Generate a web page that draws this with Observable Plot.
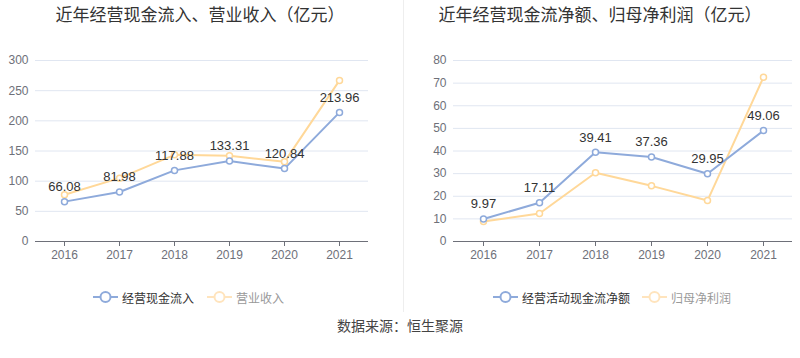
<!DOCTYPE html>
<html><head><meta charset="utf-8">
<script src="https://cdn.jsdelivr.net/npm/d3@7"></script>
<script src="https://cdn.jsdelivr.net/npm/@observablehq/plot@0.6"></script>
<style>
body{margin:0;background:#fff;font-family:"Liberation Sans","Noto Sans CJK SC",sans-serif;}
#wrap{position:relative;width:800px;height:358px;overflow:hidden;}
.panel{position:absolute;top:0;width:400px;}
.title{position:absolute;top:0;left:0;width:400px;text-align:center;font-family:"Noto Sans CJK SC",sans-serif;font-size:17px;line-height:28px;color:#333;}
.chart{position:absolute;top:40px;left:0;}
.legend{position:absolute;top:288px;left:0;width:400px;height:18px;font-family:"Noto Sans CJK SC",sans-serif;font-size:12px;}
.item{position:absolute;top:0;display:flex;align-items:center;height:18px;}
.item svg{margin-right:4px;}
#divider{position:absolute;left:403px;top:0;width:1px;height:312px;background:#eeeeee;}
#caption{position:absolute;top:314px;left:0;width:800px;text-align:center;font-family:"Noto Sans CJK SC",sans-serif;font-size:14px;color:#444;line-height:22px;}
</style></head>
<body><div id="wrap"></div>
<script>
const years = ["2016","2017","2018","2019","2020","2021"];
// Left chart
const cashInflow = [66.08, 81.98, 117.88, 133.31, 120.84, 213.96];
const revenue = [77.4, 105.0, 143.7, 142.0, 132.0, 267.0];
const leftTicks = [0, 50, 100, 150, 200, 250, 300];
// Right chart
const netCash = [9.97, 17.11, 39.41, 37.36, 29.95, 49.06];
const netProfit = [8.8, 12.4, 30.4, 24.6, 18.1, 72.6];
const rightTicks = [0, 10, 20, 30, 40, 50, 60, 70, 80];

const titles = ["近年经营现金流入、营业收入（亿元）", "近年经营现金流净额、归母净利润（亿元）"];
const legendNames = [["经营现金流入", "营业收入"], ["经营活动现金流净额", "归母净利润"]];
const caption = "数据来源：恒生聚源";

const BLUE = "#8eaadb", ORANGE = "#ffd899", AXIS = "#6e7079", GRID = "#e0e6f1";

function makeChart(a, b, ticks, ml, mr) {
  const A = years.map((y, i) => ({year: y, v: a[i]}));
  const B = years.map((y, i) => ({year: y, v: b[i]}));
  return Plot.plot({
    width: 400, height: 230,
    marginLeft: ml, marginRight: mr, marginTop: 20, marginBottom: 29,
    style: {fontFamily: "Liberation Sans, sans-serif", fontSize: "12px", color: AXIS, background: "transparent"},
    x: {type: "point", domain: years, padding: 0.5, label: null},
    y: {domain: [ticks[0], ticks[ticks.length - 1]], label: null},
    marks: [
      Plot.gridY(ticks, {stroke: GRID, strokeOpacity: 1}),
      Plot.axisY(ticks, {tickSize: 0, tickPadding: 7, fill: AXIS, fontSize: 12}),
      Plot.ruleY([0], {stroke: AXIS}),
      Plot.axisX({tickSize: 5, stroke: AXIS, tickPadding: 4, fill: AXIS, fontSize: 12}),
      Plot.line(B, {x: "year", y: "v", stroke: ORANGE, strokeWidth: 2}),
      Plot.line(A, {x: "year", y: "v", stroke: BLUE, strokeWidth: 2}),
      Plot.dot(B, {x: "year", y: "v", r: 3, fill: "#fff", stroke: ORANGE, strokeWidth: 1.5}),
      Plot.dot(A, {x: "year", y: "v", r: 3, fill: "#fff", stroke: BLUE, strokeWidth: 1.5}),
      Plot.text(A, {x: "year", y: "v", text: d => d.v.toFixed(2), dy: -15, fill: "#333", fontSize: 13})
    ]
  });
}

function icon(color) {
  return `<svg width="25" height="14"><line x1="0" y1="7" x2="25" y2="7" stroke="${color}" stroke-width="2"/><circle cx="12.5" cy="7" r="5" fill="#fff" stroke="${color}" stroke-width="2"/></svg>`;
}

const wrap = document.getElementById("wrap");
const configs = [
  {left: 0, a: cashInflow, b: revenue, ticks: leftTicks, ml: 35, mr: 32, leg: [93, 207]},
  {left: 400, a: netCash, b: netProfit, ticks: rightTicks, ml: 53, mr: 8, leg: [93, 242]}
];
configs.forEach((c, k) => {
  const p = document.createElement("div");
  p.className = "panel"; p.style.left = c.left + "px";
  const t = document.createElement("div"); t.className = "title"; t.textContent = titles[k];
  p.appendChild(t);
  const ch = document.createElement("div"); ch.className = "chart";
  ch.appendChild(makeChart(c.a, c.b, c.ticks, c.ml, c.mr));
  p.appendChild(ch);
  const lg = document.createElement("div"); lg.className = "legend";
  lg.innerHTML =
    `<div class="item" style="left:${c.leg[0]}px;color:#333">${icon(BLUE)}<span>${legendNames[k][0]}</span></div>` +
    `<div class="item" style="left:${c.leg[1]}px;color:#999">${icon("#ffe4bd")}<span>${legendNames[k][1]}</span></div>`;
  p.appendChild(lg);
  wrap.appendChild(p);
});
const dv = document.createElement("div"); dv.id = "divider"; wrap.appendChild(dv);
const cap = document.createElement("div"); cap.id = "caption"; cap.textContent = caption; wrap.appendChild(cap);
</script></body></html>
